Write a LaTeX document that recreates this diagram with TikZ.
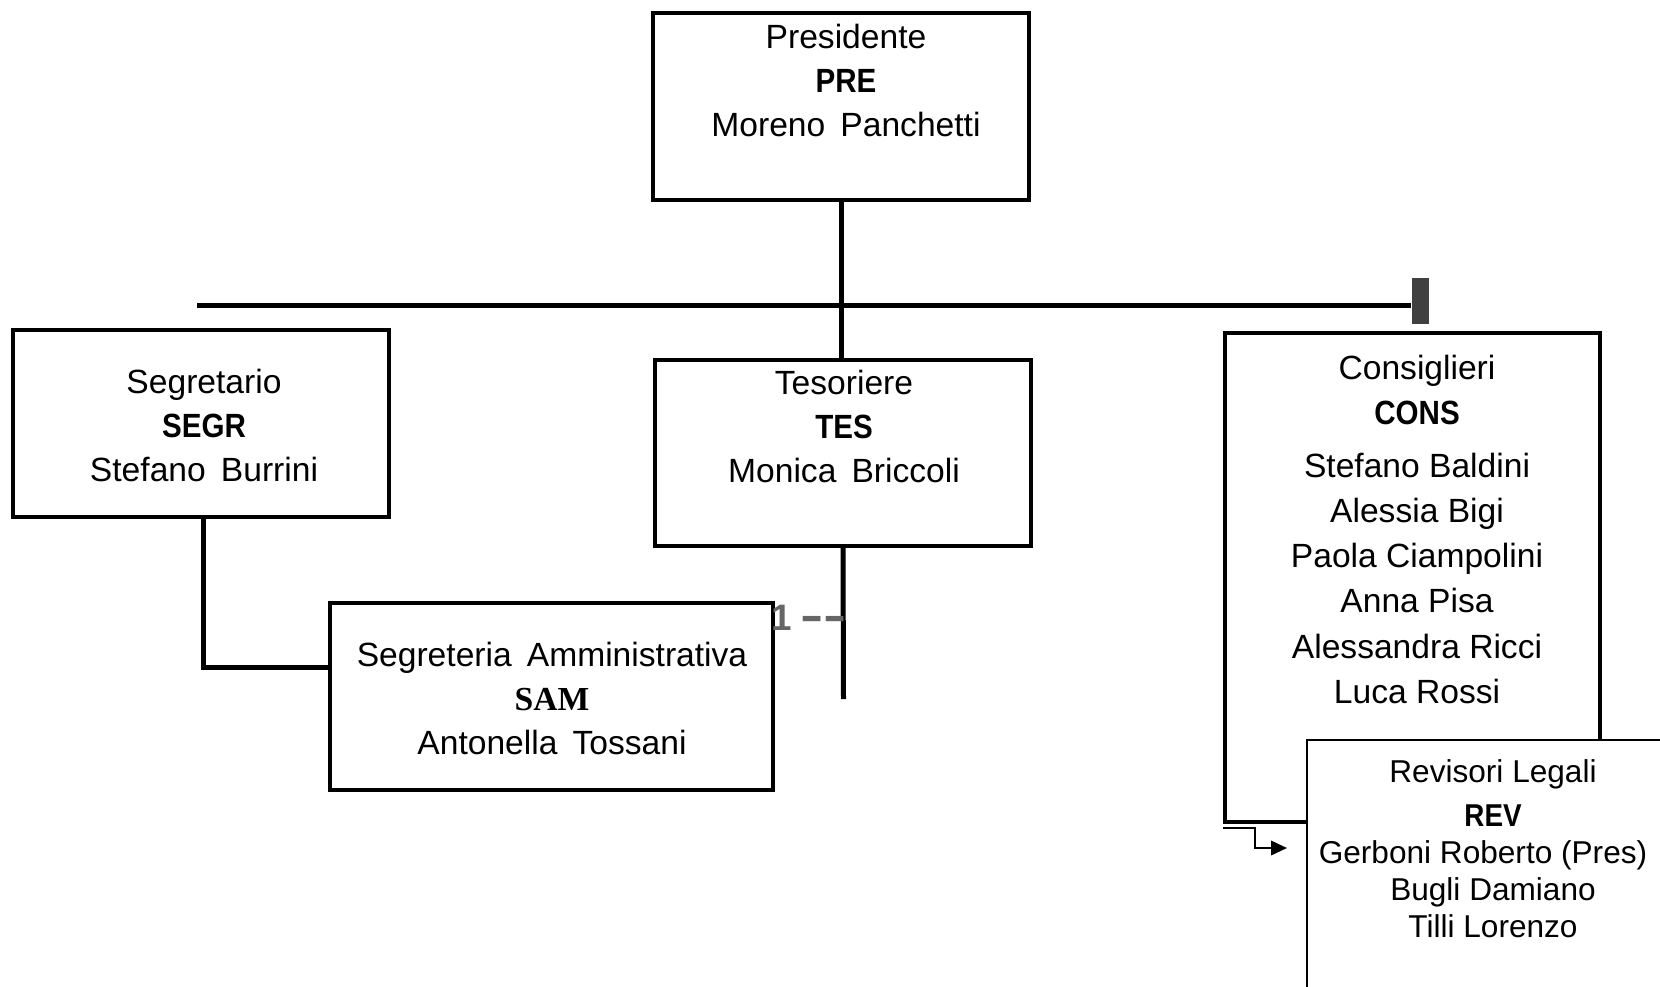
\documentclass[tikz,border=0pt]{standalone}
\usepackage{fontspec}
\setmainfont{Liberation Sans}
\newfontfamily\abbrfont{Liberation Sans}[FakeStretch=0.88]
\newfontfamily\serifabbr{Liberation Serif}
\usetikzlibrary{positioning,arrows.meta,calc}
\definecolor{tickgray}{HTML}{404040}
\definecolor{onegray}{HTML}{666666}
\newcommand{\abbr}[1]{{\abbrfont\bfseries #1}}
\newcommand{\wsp}{\hspace{0.45em}}
\newcommand{\wdash}{\scalebox{1.9}[1.2]{-}}

\begin{document}
\begin{tikzpicture}[x=0.25pt, y=-0.25pt,
  box/.style={draw, line width=1pt, minimum width=94pt, minimum height=46.75pt, inner sep=0pt},
  txt/.style={align=center, inner sep=0pt, anchor=north, font=\fontsize{8.4}{11}\selectfont},
  link/.style={line width=1.25pt}]
\useasboundingbox (0,0) rectangle (1660,986);
\clip (0,0) rectangle (1660,986);
% boxes
\node[box] (pre) at (841,106.5) {};
\node[box] (segr) at (201,423.5) {};
\node[box, minimum height=46.5pt] (tes) at (843,453) {};
\node[box, minimum width=110.75pt] (sam) at (551.5,696.5) {};
\node[box, minimum width=93.75pt, minimum height=122.25pt] (cons) at (1412.5,577.5) {};
% texts
\node[txt] (pretxt) at (846,23.5) {Presidente\\\abbr{PRE}\\Moreno\wsp Panchetti};
\node[txt] (segrtxt) at (204,368.5) {Segretario\\\abbr{SEGR}\\Stefano\wsp Burrini};
\node[txt] (testxt) at (844,369.5) {Tesoriere\\\abbr{TES}\\Monica\wsp Briccoli};
\node[txt] (samtxt) at (552,641.5) {Segreteria\wsp Amministrativa\\{\serifabbr\bfseries SAM}\\Antonella\wsp Tossani};
\node[txt, font=\fontsize{8.4}{11.3}\selectfont] (constxt) at (1417,354.5)
  {Consiglieri\\\abbr{CONS}\\[1.8pt]Stefano Baldini\\Alessia Bigi\\Paola Ciampolini\\Anna Pisa\\Alessandra Ricci\\Luca Rossi};
% lines
\draw[link] (pre.south) -- (pre.south |- tes.north);
\coordinate (hl) at (197,305);
\coordinate (hr) at (1411,305);
\draw[link] (hl) -- (hr);
\node[fill=tickgray, minimum width=4.25pt, minimum height=11.5pt, inner sep=0pt, anchor=west] (tick) at (1411,301) {};
\coordinate (tesend) at (843.5,699);
\draw[link] (tes.south) -- (tesend);
\coordinate (samin) at (330,667);
\draw[link] ($(segr.south)+(2,0)$) |- (samin);
\node[anchor=base west, inner sep=0pt, text=onegray, font=\fontsize{9.2}{10}\selectfont\bfseries] (one) at (771,630) {1\hspace{2pt}\wdash\wdash};
% revisori
\node[box, line width=0.6pt, fill=white, minimum width=103.25pt, minimum height=75pt] (rev) at (1513.5,890) {};
\node[txt, font=\fontsize{7.9}{9.25}\selectfont] (revtxt) at (1493,759)
  {Revisori Legali\\[1.6pt]\abbr{REV}\\\hspace*{-5pt}Gerboni Roberto (Pres)\\Bugli Damiano\\Tilli Lorenzo};
\coordinate (arrs) at ($(cons.south west)+(0,4)$);
\coordinate (arre) at (1287,848);
\draw[line width=0.6pt, -{Triangle[length=4pt,width=3.6pt]}] (arrs) -- ++(32,0) |- (arre);
\end{tikzpicture}
\end{document}
